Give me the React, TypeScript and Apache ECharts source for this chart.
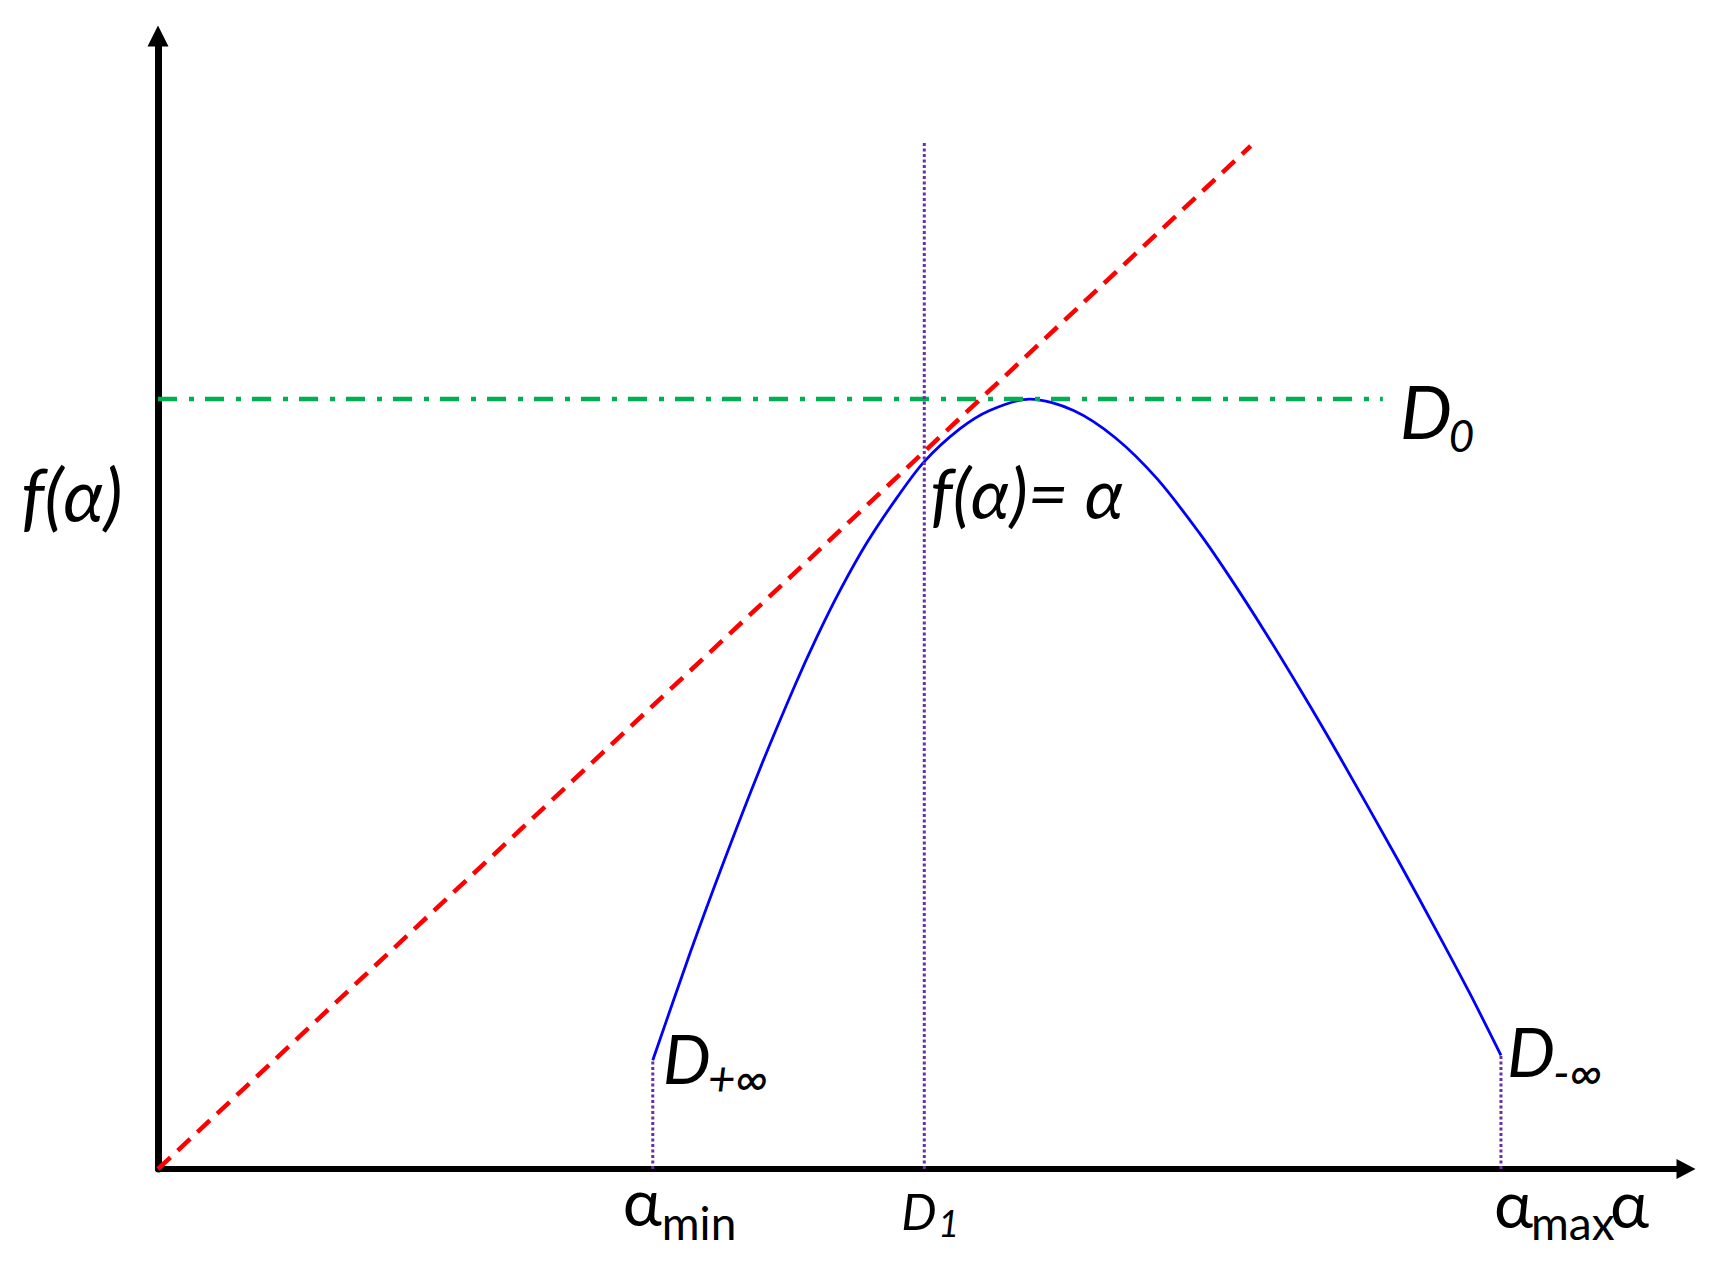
import React, { useEffect, useRef } from "react";
import * as echarts from "echarts";

// Multifractal spectrum f(α)
const alphaMin = 3.238;
const alphaD1 = 5.015;
const alphaMax = 8.789;
const D0 = 5.382;
const xMax = 10;
const yMax = 7.92;

const spectrumAlpha = [3.238, 3.481, 3.697, 3.933, 4.168, 4.313, 4.462, 4.639, 4.842, 5.015, 5.247, 5.443, 5.705, 5.992, 6.267, 6.541, 6.816, 7.012, 7.247, 7.483, 7.718, 8.11, 8.385, 8.582, 8.789];
const spectrumF = [0.76, 1.506, 2.132, 2.781, 3.38, 3.721, 4.041, 4.377, 4.702, 4.945, 5.173, 5.302, 5.382, 5.302, 5.11, 4.822, 4.445, 4.141, 3.751, 3.338, 2.91, 2.169, 1.63, 1.234, 0.795];

const identityEnd = 7.151; // f(α) = α dashed line end
const d0LineEnd = 8.016; // D0 dash-dot line end
const d1LineTop = 7.172; // vertical dotted line top
const fAtMin = 0.76;
const fAtMax = 0.795;

const FONT = "Lato, 'Noto Sans', 'DejaVu Sans', sans-serif";

export default function App() {
  const ref = useRef<HTMLDivElement>(null);
  useEffect(() => {
    if (!ref.current) return;
    const chart = echarts.init(ref.current, null, { renderer: "svg" });
    const lineSeries = (data: number[][], color: string, width: number, type: any, z: number) => ({
      type: "line",
      data,
      showSymbol: false,
      symbol: "none",
      silent: true,
      z,
      lineStyle: { color, width, type },
    });
    chart.setOption({
      animation: false,
      backgroundColor: "#ffffff",
      grid: { left: 158, right: 35, top: 36, bottom: 104 },
      xAxis: {
        type: "value",
        min: 0,
        max: xMax,
        axisLine: {
          show: true,
          symbol: ["none", "triangle"],
          symbolSize: [20, 19],
          lineStyle: { color: "#000", width: 6 },
        },
        axisTick: { show: false },
        axisLabel: { show: false },
        splitLine: { show: false },
      },
      yAxis: {
        type: "value",
        min: 0,
        max: yMax,
        axisLine: {
          show: true,
          symbol: ["none", "triangle"],
          symbolSize: [21, 21],
          lineStyle: { color: "#000", width: 7 },
        },
        axisTick: { show: false },
        axisLabel: { show: false },
        splitLine: { show: false },
      },
      series: [
        {
          ...lineSeries(spectrumAlpha.map((a, i) => [a, spectrumF[i]]), "#0000ff", 2.8, "solid", 3),
          smooth: 0.3,
        },
        lineSeries([[0, D0], [d0LineEnd, D0]], "#00b050", 4.5, [19, 12, 5, 11], 4),
        lineSeries([[alphaD1, 0], [alphaD1, d1LineTop]], "#6a2fa0", 3, [3, 2.5], 5),
        lineSeries([[alphaMin, 0], [alphaMin, fAtMin]], "#6a2fa0", 3, [3, 2.5], 5),
        lineSeries([[alphaMax, 0], [alphaMax, fAtMax]], "#6a2fa0", 3, [3, 2.5], 5),
        lineSeries([[0, 0], [identityEnd, identityEnd]], "#ff0000", 4.5, [17, 10], 6),
      ],
    });

    const P = (x: number, y: number) => chart.convertToPixel({ gridIndex: 0 }, [x, y]) as number[];
    const txt = (x: number, baseline: number, text: string, size: number, italic: boolean) => ({
      type: "text",
      x,
      y: baseline - size * 0.33,
      silent: true,
      z: 100,
      style: {
        text,
        fill: "#000",
        fontSize: size,
        fontFamily: FONT,
        fontStyle: italic ? "italic" : "normal",
        align: "left",
        verticalAlign: "middle",
      },
    });

    const pMin = P(alphaMin, 0);
    const pD1 = P(alphaD1, 0);
    const pMax = P(alphaMax, 0);
    const pStart = P(alphaMin, fAtMin);
    const pEnd = P(alphaMax, fAtMax);
    const pD0 = P(d0LineEnd, D0);
    const pTan = P(alphaD1, alphaD1);
    const pAxisD0 = P(0, D0);

    chart.setOption({
      graphic: [
        txt(pAxisD0[0] - 137, pAxisD0[1] + 119, "f(α)", 73, true),
        txt(pTan[0] + 6, pTan[1] + 64, "f(α)= α", 70, true),
        txt(pD0[0] + 17, pD0[1] + 36, "D", 74, true),
        txt(pD0[0] + 66, pD0[1] + 50, "0", 44, true),
        txt(pStart[0] + 10, pStart[1] + 20, "D", 68, true),
        txt(pStart[0] + 55, pStart[1] + 33, "+∞", 48, true),
        txt(pEnd[0] + 6, pEnd[1] + 18, "D", 68, true),
        txt(pEnd[0] + 52, pEnd[1] + 32, "-∞", 48, true),
        txt(pMin[0] - 30, pMin[1] + 53, "α", 66, false),
        txt(pMin[0] + 9, pMin[1] + 69, "min", 46, false),
        txt(pD1[0] - 23, pD1[1] + 58, "D", 50, true),
        txt(pD1[0] + 14, pD1[1] + 66, "1", 36, true),
        txt(pMax[0] - 7, pMax[1] + 55, "α", 66, false),
        txt(pMax[0] + 30, pMax[1] + 69, "max", 46, false),
        txt(pMax[0] + 109, pMax[1] + 55, "α", 66, false),
      ],
    });

    return () => chart.dispose();
  }, []);
  return <div ref={ref} style={{ position: "absolute", left: 0, top: 0, width: 1721, height: 1273 }} />;
}
